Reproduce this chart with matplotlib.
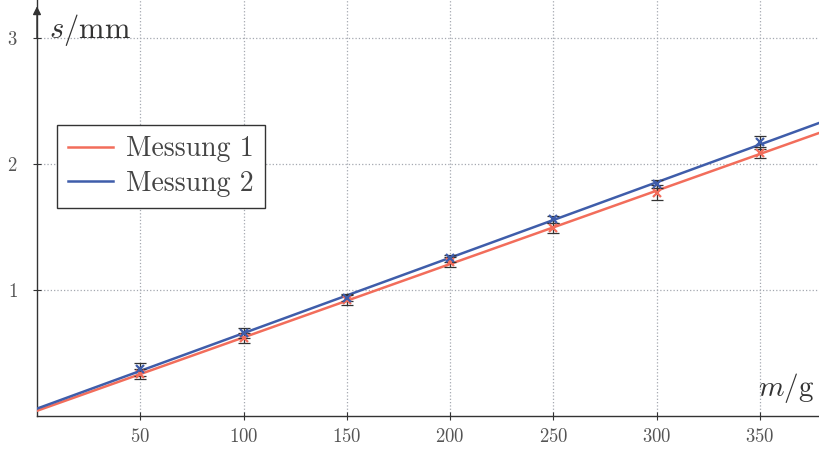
import numpy as np
import matplotlib.pyplot as plt

# masses (g) and measured extension (mm) for both runs
masses = [50, 100, 150, 200, 250, 300, 350]
s_run1 = [0.33, 0.62, 0.92, 1.22, 1.49, 1.77, 2.09]
s_run2 = [0.37, 0.66, 0.94, 1.25, 1.56, 1.84, 2.17]
err_run1 = [0.04, 0.04, 0.04, 0.04, 0.04, 0.06, 0.04]
err_run2 = [0.05, 0.04, 0.03, 0.03, 0.03, 0.03, 0.05]

x_ticks = [50, 100, 150, 200, 250, 300, 350]
y_ticks = [1, 2, 3]

RED = "#f26d5b"
BLUE = "#3f5daa"

plt.rcParams["font.family"] = ["cmr10", "DejaVu Serif"]
plt.rcParams["mathtext.fontset"] = "cm"
plt.rcParams["axes.formatter.use_mathtext"] = True

fig = plt.figure(figsize=(8.2, 4.49), dpi=100)
ax = fig.add_axes([37 / 820, 33 / 449, 783 / 820, 416 / 449])
ax.set_xlim(0, 379)
ax.set_ylim(0, 3.30)

x = np.asarray(masses, dtype=float)
x_fit = np.array([0.0, 380.0])

for s, err, color, label in [
    (s_run1, err_run1, RED, "Messung 1"),
    (s_run2, err_run2, BLUE, "Messung 2"),
]:
    slope, icpt = np.polyfit(x, s, 1)
    ax.plot(x_fit, icpt + slope * x_fit, color=color, lw=1.8, label=label, zorder=3)
    ax.errorbar(x, s, yerr=err, fmt="none", ecolor="#333333", elinewidth=0.9,
                capsize=4, capthick=0.9, zorder=4)
    ax.plot(x, s, "x", color=color, ms=6, mew=1.6, zorder=5)

ax.set_xticks(x_ticks)
ax.set_yticks(y_ticks)
ax.grid(True, color="#a4a8b0", linestyle=":", linewidth=0.9, zorder=0)
ax.tick_params(direction="inout", length=6, width=0.8, colors="#333333",
               labelsize=13.5, labelcolor="#555555")
ax.tick_params(axis="x", pad=6)
ax.tick_params(axis="y", pad=11)

for side in ["top", "right"]:
    ax.spines[side].set_visible(False)
for side in ["left", "bottom"]:
    ax.spines[side].set_color("#333333")
    ax.spines[side].set_linewidth(1.0)

# arrow head on the vertical axis
ax.annotate("", xy=(0, 3.25), xytext=(0, 3.0),
            arrowprops=dict(arrowstyle="-|>", color="#333333", lw=1.0,
                            mutation_scale=12, shrinkA=0, shrinkB=0),
            annotation_clip=False)

ax.text(6, 3.06, r"$s/\mathrm{mm}$", fontsize=22, color="#333333",
        ha="left", va="center")
ax.text(349, 0.22, r"$m/\mathrm{g}$", fontsize=21, color="#333333",
        ha="left", va="center")

leg = ax.legend(loc="upper left", bbox_to_anchor=(0.0255, 0.70), borderaxespad=0,
                fontsize=20, handlelength=1.6, handletextpad=0.5,
                borderpad=0.4, labelspacing=0.3, fancybox=False,
                framealpha=1, edgecolor="#333333")
leg.get_frame().set_linewidth(1.0)
for t in leg.get_texts():
    t.set_color("#444444")

fig.savefig("out.png", dpi=100)
